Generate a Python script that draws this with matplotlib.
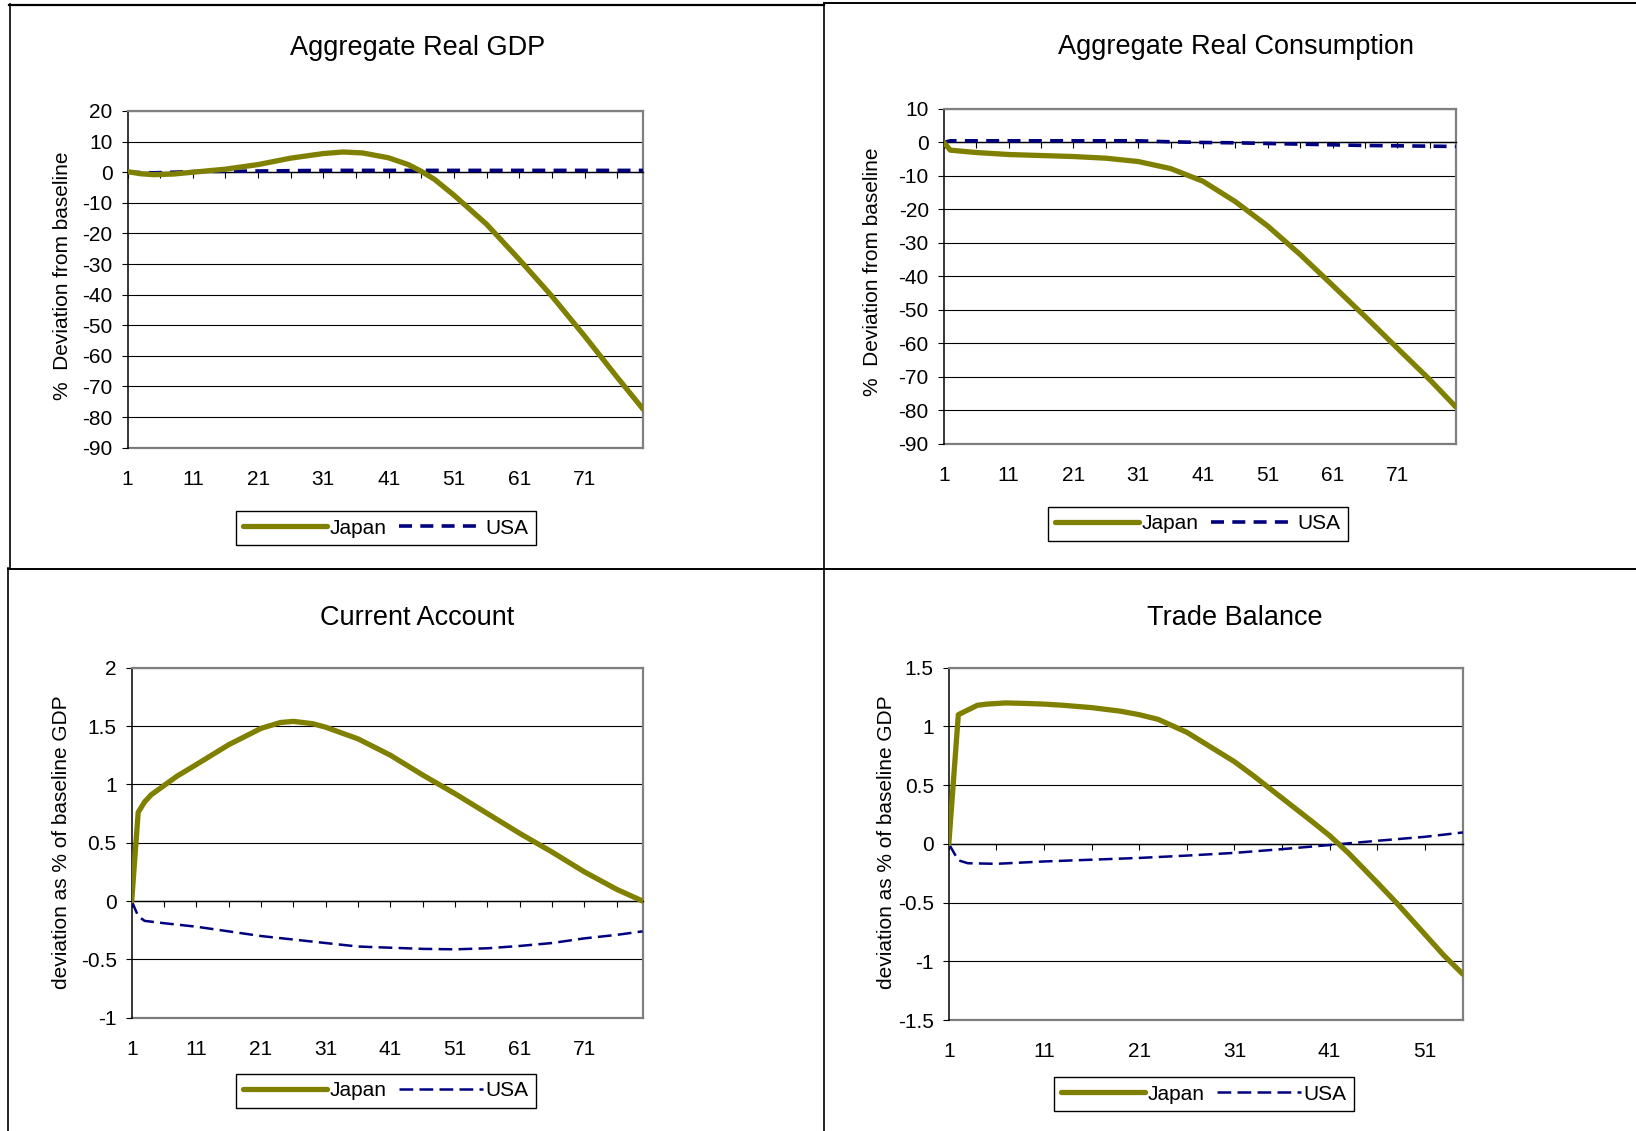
import numpy as np
import matplotlib
matplotlib.use("Agg")
import matplotlib.pyplot as plt
from matplotlib.lines import Line2D

plt.rcParams['font.family'] = ['Liberation Sans', 'DejaVu Sans']
plt.rcParams['axes.unicode_minus'] = False

# ---- data ----
gdp_periods = [1, 3, 5, 8, 11, 16, 21, 26, 31, 34, 37, 41, 44, 46, 48, 51, 56, 61, 66, 71, 76, 80]
gdp_japan = [0.2, -0.5, -0.8, -0.6, 0.0, 1.0, 2.5, 4.6, 6.1, 6.6, 6.3, 4.7, 2.5, 0.3, -2.3,
             -7.5, -17.0, -28.5, -40.5, -53.5, -67.0, -77.5]
gdp_usa_periods = [1, 5, 11, 21, 31, 41, 51, 61, 71, 80]
gdp_usa = [0.0, -0.2, 0.2, 0.4, 0.6, 0.6, 0.6, 0.6, 0.6, 0.6]

cons_periods = [1, 2, 6, 11, 16, 21, 26, 31, 36, 41, 46, 51, 56, 61, 66, 71, 76, 80]
cons_japan = [0.0, -2.3, -3.0, -3.6, -3.9, -4.2, -4.7, -5.7, -7.8, -11.6, -17.7, -25.0,
              -33.5, -42.7, -52.0, -61.5, -70.9, -79.0]
cons_usa = [0.0, 0.5, 0.5, 0.5, 0.5, 0.5, 0.5, 0.5, 0.2, 0.0, -0.1, -0.3, -0.5, -0.7,
            -0.9, -1.0, -1.1, -1.2]

ca_periods = [1, 2, 3, 4, 6, 8, 11, 16, 21, 24, 26, 29, 31, 36, 41, 46, 51, 56, 61, 66, 71, 76, 80]
ca_japan = [0.0, 0.76, 0.85, 0.91, 0.99, 1.07, 1.17, 1.34, 1.48, 1.53, 1.54, 1.52, 1.49,
            1.39, 1.25, 1.08, 0.92, 0.75, 0.58, 0.42, 0.25, 0.10, 0.0]
ca_usa_periods = [1, 2, 3, 6, 11, 16, 21, 26, 31, 36, 41, 46, 51, 56, 61, 66, 71, 76, 80]
ca_usa = [0.0, -0.13, -0.17, -0.19, -0.22, -0.26, -0.30, -0.33, -0.36, -0.39, -0.40,
          -0.41, -0.414, -0.405, -0.385, -0.36, -0.32, -0.29, -0.26]

tb_periods = [1, 2, 3, 4, 5, 7, 9, 11, 13, 16, 19, 21, 23, 26, 29, 31, 33, 36, 39, 41,
              43, 46, 48, 51, 53, 55]
tb_japan = [0.0, 1.10, 1.14, 1.18, 1.19, 1.20, 1.196, 1.19, 1.18, 1.16, 1.13, 1.10, 1.06,
            0.95, 0.80, 0.70, 0.58, 0.39, 0.20, 0.07, -0.08, -0.33, -0.50, -0.77, -0.95, -1.11]
tb_usa_periods = [1, 2, 3, 6, 11, 16, 21, 26, 31, 36, 41, 46, 51, 55]
tb_usa = [0.0, -0.14, -0.165, -0.17, -0.15, -0.135, -0.12, -0.10, -0.077, -0.045, -0.01,
          0.026, 0.06, 0.097]

W, H = 1636, 1131
fig = plt.figure(figsize=(W / 100, H / 100), dpi=100)

JAPAN_COL = '#808000'
USA_COL = '#000080'
GRAY = '#808080'


def px_rect(l, t, r, b):
    return [l / W, 1 - b / H, (r - l) / W, (b - t) / H]


def fig_line(x0, y0, x1, y1, lw=1.2):
    fig.add_artist(Line2D([x0 / W, x1 / W], [1 - y0 / H, 1 - y1 / H],
                          transform=fig.transFigure, color='black', lw=lw))


def panel(rect, n, xj, yj, xu, yu, yticks, title, title_xy, ylabel, ylabel_xy,
          leg_xy, usa_lw, usa_dash):
    ax = fig.add_axes(px_rect(*rect))
    ax.yaxis.grid(True, color='black', lw=0.8, zorder=1)
    ax.set_axisbelow(True)
    ax.plot(xj, yj, color=JAPAN_COL, lw=3.8, solid_capstyle='round',
            solid_joinstyle='round', zorder=4, label='Japan')
    ax.plot(xu, yu, color=USA_COL, lw=usa_lw, dashes=usa_dash, zorder=3, label='USA')
    ax.set_xlim(1, n)
    ax.set_ylim(yticks[0], yticks[-1])
    ax.set_yticks(yticks)
    ax.set_yticklabels(['%g' % v for v in yticks])
    ax.tick_params(axis='y', direction='out', length=4.3, width=0.8, pad=6.5,
                   labelsize=15, color='black')

    for s in ('top', 'right'):
        ax.spines[s].set_color(GRAY)
        ax.spines[s].set_linewidth(1.6)
    ax.spines['left'].set_color('black')
    ax.spines['left'].set_linewidth(1.1)

    # category axis crosses at zero, labels sit low
    ax.spines['bottom'].set_position(('data', 0))
    ax.spines['bottom'].set_color('black')
    ax.spines['bottom'].set_linewidth(1.0)
    ax.set_xticks(np.arange(1, n + 1, 5))
    ax.tick_params(axis='x', direction='out', length=4.3, width=0.8,
                   labelbottom=False, color='black')

    sec = ax.secondary_xaxis(0)
    sec.set_xticks(np.arange(1, n + 1, 10))
    sec.tick_params(length=0, pad=16, labelsize=15)
    sec.spines['bottom'].set_color(GRAY)
    sec.spines['bottom'].set_linewidth(1.6)

    fig.text(title_xy[0] / W, 1 - title_xy[1] / H, title, fontsize=19.5,
             ha='center', va='center')
    fig.text(ylabel_xy[0] / W, 1 - ylabel_xy[1] / H, ylabel, fontsize=15,
             rotation=90, ha='center', va='center')

    h, l = ax.get_legend_handles_labels()
    leg = fig.legend(h, l, loc='center', bbox_to_anchor=(leg_xy[0] / W, 1 - leg_xy[1] / H),
                     bbox_transform=fig.transFigure, ncol=2, fontsize=15,
                     frameon=True, fancybox=False, edgecolor='black', framealpha=1,
                     handlelength=4.0, handletextpad=0.15, columnspacing=0.6,
                     borderpad=0.35, borderaxespad=0)
    leg.get_frame().set_linewidth(1.0)
    return ax


panel((127.5, 111, 643.3, 447.7), 80, gdp_periods, gdp_japan, gdp_usa_periods, gdp_usa,
      list(range(-90, 21, 10)), 'Aggregate Real GDP', (418, 48),
      '%  Deviation from baseline', (62, 276), (386, 528), 2.6, (3.6, 2.3))

panel((943.8, 109, 1455.8, 443.7), 80, cons_periods, cons_japan, cons_periods, cons_usa,
      list(range(-90, 11, 10)), 'Aggregate Real Consumption', (1236, 47),
      '%  Deviation from baseline', (872, 272), (1198, 524), 2.6, (3.6, 2.3))

panel((131.7, 667.7, 642.6, 1017.7), 80, ca_periods, ca_japan, ca_usa_periods, ca_usa,
      [-1, -0.5, 0, 0.5, 1, 1.5, 2], 'Current Account', (417, 618),
      'deviation as % of baseline GDP', (62, 842), (386, 1091), 1.8, (5.5, 2.5))

panel((948.8, 667.7, 1462.9, 1020), 55, tb_periods, tb_japan, tb_usa_periods, tb_usa,
      [-1.5, -1, -0.5, 0, 0.5, 1, 1.5], 'Trade Balance', (1235, 618),
      'deviation as % of baseline GDP', (886, 842), (1204, 1094), 1.8, (5.5, 2.5))

# panel frames around the four charts
fig_line(9, 4.5, 824, 4.5, lw=1.6)
fig_line(824, 3, W, 3, lw=1.4)
fig_line(9.5, 4, 9.5, 569)
fig_line(824, 3, 824, H)
fig_line(8, 568.5, W, 568.5, lw=1.4)
fig_line(8, 568, 8, H)

fig.savefig('out.png', dpi=100)
